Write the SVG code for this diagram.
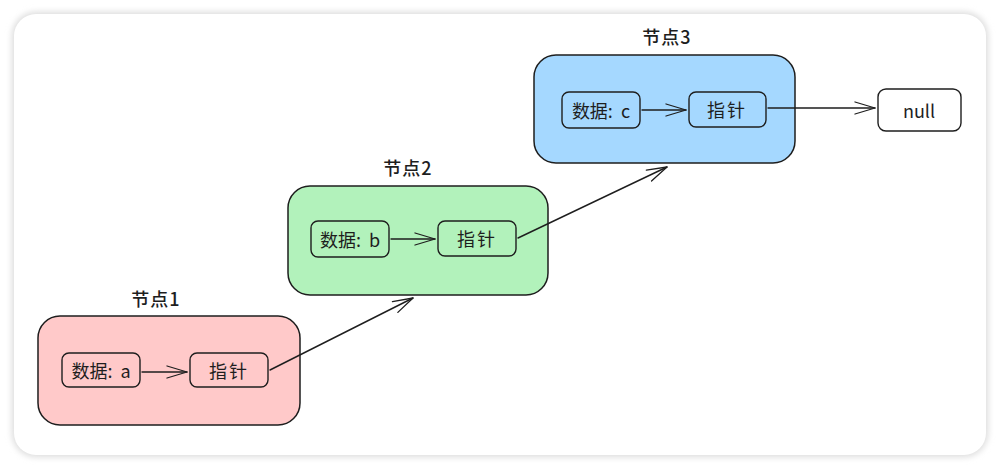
<svg xmlns="http://www.w3.org/2000/svg" width="1000" height="469" viewBox="0 0 1000 469">
<defs>
<marker id="arr" markerWidth="22" markerHeight="16" refX="21" refY="7" orient="auto" markerUnits="userSpaceOnUse">
<path d="M1,1 L21,7 L1,13" fill="none" stroke="#1e1e1e" stroke-width="1.3" stroke-linecap="round" stroke-linejoin="round"/>
</marker>
<filter id="sh" x="-5%" y="-5%" width="110%" height="110%">
<feGaussianBlur stdDeviation="3"/>
</filter>
</defs>
<style>
.outer{stroke:#1e1e1e;stroke-width:1.5}
.inner{fill:none;stroke:#1e1e1e;stroke-width:1.4}
.t{font-family:"Noto Sans CJK SC","Noto Sans",sans-serif;font-size:18px;fill:#1e1e1e;text-anchor:middle;dominant-baseline:central}
.lbl{font-size:18px;font-weight:500;letter-spacing:1px}
.c{fill:none;stroke:#1e1e1e;stroke-width:1.4;stroke-linecap:round}
</style>
<rect x="0" y="0" width="1000" height="469" fill="#ffffff"/>
<rect x="12" y="12" width="976" height="445" rx="24" fill="#dcdcdc" filter="url(#sh)"/>
<rect x="14" y="14" width="972" height="441" rx="22" fill="#ffffff"/>

<g id="node1">
<text class="t lbl" x="156" y="298">节点1</text>
<rect class="outer" x="38" y="316" width="262" height="109" rx="22" fill="#ffc9c9"/>
<rect class="inner" x="62" y="353" width="78" height="34" rx="7"/>
<text class="t" x="101" y="370" xml:space="preserve">数据:  a</text>
<rect class="inner" x="190" y="353" width="78" height="34" rx="7"/>
<text class="t" x="229" y="370" letter-spacing="2">指针</text>
</g>

<g id="node2">
<text class="t lbl" x="408" y="167">节点2</text>
<rect class="outer" x="288" y="186" width="260" height="109" rx="22" fill="#b2f2bb"/>
<rect class="inner" x="311" y="221" width="78" height="36" rx="7"/>
<text class="t" x="350" y="239" xml:space="preserve">数据:  b</text>
<rect class="inner" x="438" y="221" width="78" height="35" rx="7"/>
<text class="t" x="477" y="238" letter-spacing="2">指针</text>
</g>

<g id="node3">
<text class="t lbl" x="667" y="36">节点3</text>
<rect class="outer" x="534" y="55" width="261" height="108" rx="22" fill="#a5d8ff"/>
<rect class="inner" x="562" y="92" width="78" height="36" rx="7"/>
<text class="t" x="601" y="110" xml:space="preserve">数据:  c</text>
<rect class="inner" x="689" y="92" width="77" height="35" rx="7"/>
<text class="t" x="727" y="109" letter-spacing="2">指针</text>
</g>

<g id="null">
<rect class="inner" x="878" y="89" width="83" height="42" rx="8" fill="#ffffff"/>
<text class="t" x="919" y="110">null</text>
</g>

<g id="connectors">
<line class="c" x1="142" y1="372" x2="187" y2="372" marker-end="url(#arr)"/>
<line class="c" x1="391" y1="239" x2="435" y2="239" marker-end="url(#arr)"/>
<line class="c" x1="642" y1="110" x2="686" y2="110" marker-end="url(#arr)"/>
<line class="c" x1="270" y1="370" x2="413" y2="298" marker-end="url(#arr)"/>
<line class="c" x1="518" y1="238" x2="667" y2="167" marker-end="url(#arr)"/>
<line class="c" x1="768" y1="108" x2="875" y2="108" marker-end="url(#arr)"/>
</g>
</svg>
